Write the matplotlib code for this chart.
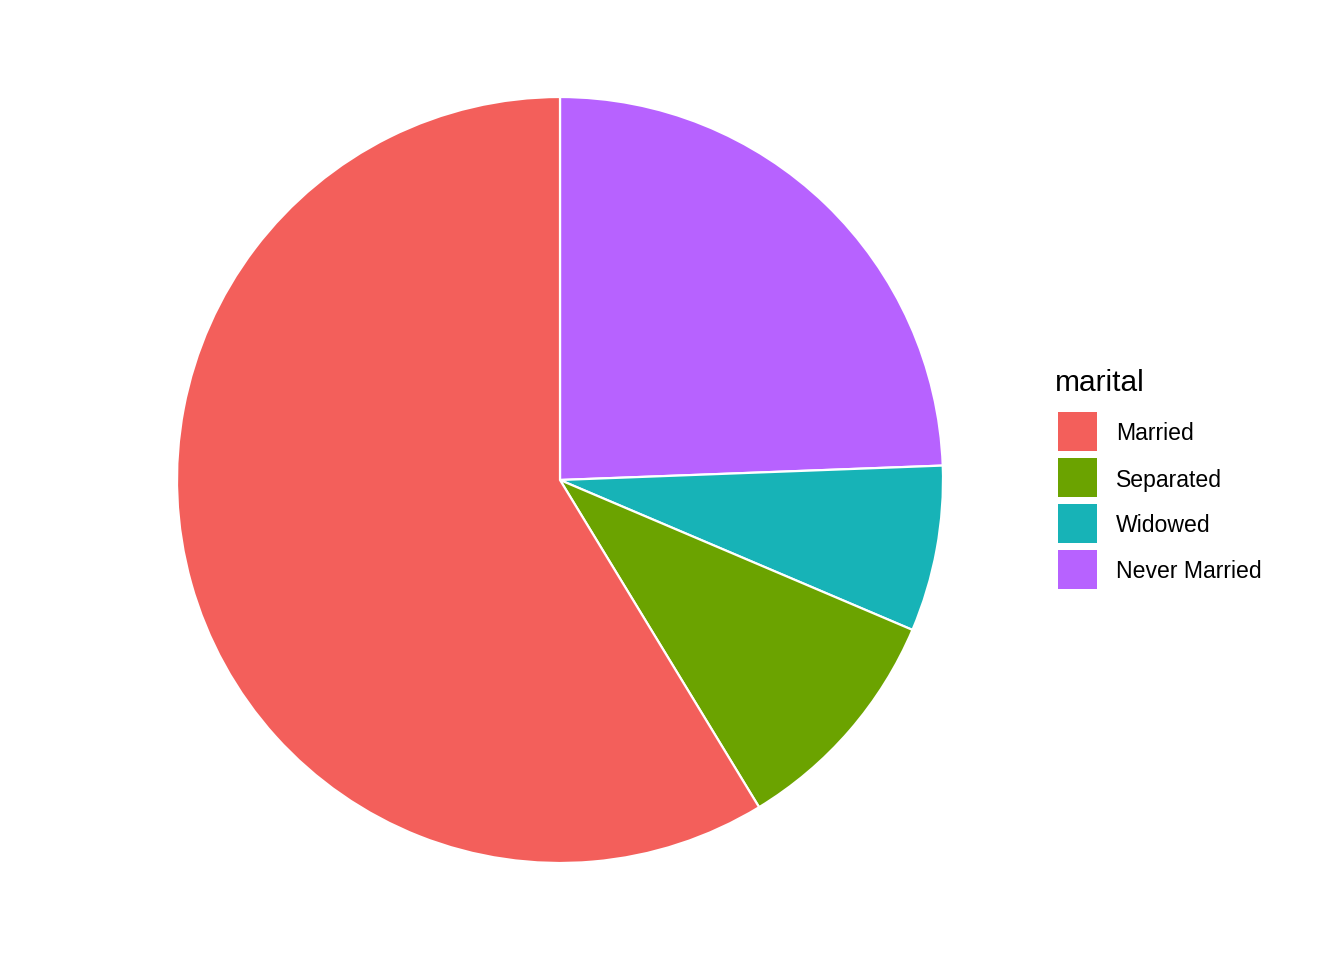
import matplotlib
matplotlib.use("Agg")
import matplotlib.pyplot as plt
from matplotlib.patches import Rectangle

plt.rcParams['font.family'] = ['Liberation Sans', 'DejaVu Sans']

categories = ["Married", "Separated", "Widowed", "Never Married"]
shares = [58.7, 9.9, 7.0, 24.4]
colors = ["#F35F5B", "#6BA300", "#17B3B7", "#B762FF"]
legend_title = "marital"

W, H = 1344, 960
fig = plt.figure(figsize=(W / 100, H / 100), dpi=100)

cx, cy, r = 560, 480, 383
ax = fig.add_axes([(cx - r) / W, (H - cy - r) / H, 2 * r / W, 2 * r / H])
# ggplot stacks in reverse: last level starts at 12 o'clock going clockwise
order = list(range(len(categories)))[::-1]
ax.pie([shares[i] for i in order], colors=[colors[i] for i in order],
       startangle=90, counterclock=False, radius=1,
       wedgeprops=dict(edgecolor="white", linewidth=1.6))
ax.set_xlim(-1, 1)
ax.set_ylim(-1, 1)
ax.set_aspect("equal")
ax.axis("off")

# legend
fig.text(1055 / W, 1 - 383 / H, legend_title, fontsize=21.5, va="center", ha="left")
key_x, key_w, key_h, step, top0 = 1058, 39, 39, 46, 412
for i, (lab, col) in enumerate(zip(categories, colors)):
    top = top0 + i * step
    fig.patches.append(Rectangle((key_x / W, 1 - (top + key_h) / H), key_w / W, key_h / H,
                                 transform=fig.transFigure, facecolor=col, edgecolor="none"))
    fig.text(1116 / W, 1 - (top + key_h / 2 + 2.5) / H, lab, fontsize=16.6, va="center", ha="left")

fig.savefig("out.png", dpi=100)
